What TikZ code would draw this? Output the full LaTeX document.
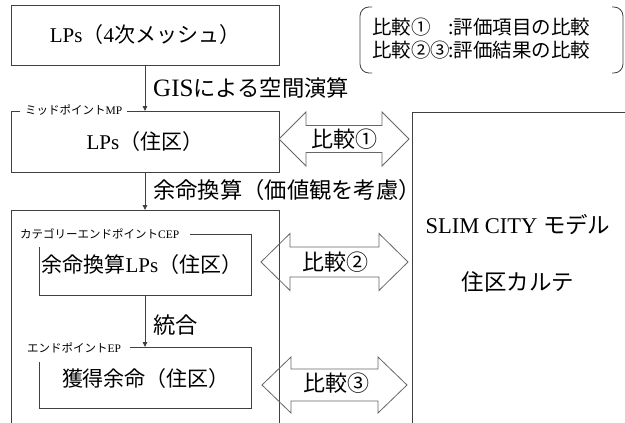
\documentclass[tikz,border=0pt]{standalone}
\usepackage{fontspec}
\setmainfont{Liberation Serif}
\newfontfamily\jp{Noto Sans CJK JP}
\newcommand\J[1]{{\jp #1}}
\usetikzlibrary{arrows.meta}
\newcommand\dblarrow[6]{% x0 x1 c s H h
  \draw[dbl] (#1,#3) -- ({#1+#6},{#3-#5}) -- ({#1+#6},{#3-#4}) -- ({#2-#6},{#3-#4})
    -- ({#2-#6},{#3-#5}) -- (#2,#3) -- ({#2-#6},{#3+#5}) -- ({#2-#6},{#3+#4})
    -- ({#1+#6},{#3+#4}) -- ({#1+#6},{#3+#5}) -- cycle;}
\begin{document}
\begin{tikzpicture}[x=1pt,y=-1pt,
  boxline/.style={draw=black!75, line width=0.9pt},
  mainbox/.style={boxline, minimum width=268pt, inner sep=0pt, outer sep=0pt, anchor=north west,
    font=\fontsize{21}{24}\selectfont},
  conn/.style={draw=black!75, line width=0.9pt, -{Triangle[length=5pt,width=4.5pt]}},
  dbl/.style={draw=black!60, line width=0.8pt},
  lab/.style={font=\jp\fontsize{22.3}{26}\selectfont, anchor=west, inner sep=0pt},
  small/.style={font=\fontsize{11.5}{13}\selectfont, inner sep=0pt, anchor=west},
  txt/.style={font=\fontsize{21}{24}\selectfont, inner sep=0pt},
  cmp/.style={font=\jp\fontsize{22}{24}\selectfont, inner sep=0pt},
  legend/.style={font=\jp\fontsize{19.5}{22}\selectfont, inner sep=0pt, anchor=west}]
\useasboundingbox (0,0) rectangle (625,423);

% legend
\draw[line width=0.8pt, draw=black!75, rounded corners=9pt] (372,7) -- (360,7) -- (360,73) -- (372,73);
\draw[line width=0.8pt, draw=black!75, rounded corners=9pt] (612,7) -- (623,7) -- (623,73) -- (612,73);
\node[legend] (lg1) at (372,27) {\makebox[76pt][l]{比較①}:評価項目の比較};
\node[legend] (lg2) at (372,50) {\makebox[76pt][l]{比較②③}:評価結果の比較};

% box 1
\node[mainbox, minimum height=60pt] (b1) at (11,5) {LPs\J{（}4\J{次メッシュ）}};
% box 2
\node[mainbox, minimum height=61pt] (b2) at (11,111) {LPs\J{（住区）}};
\node[small, fill=white, inner xsep=5pt] (mp) at (20,110) {\J{ミッドポイント}MP};

% box 3 (outer, open at the bottom)
\coordinate (b3t) at (145,210);
\draw[boxline] (11,423) -- (11,210) -- (279,210) -- (279,423);

% CEP box
\node[small] (cepl) at (20,234) {\J{カテゴリーエンドポイント}CEP};
\draw[boxline] (190,234) -- (251,234) -- (251,295) -- (39,295) -- (39,247);
\coordinate (cepb) at (145,295);
\node[txt] (t3) at (142,265) {\J{余命換算}LPs\J{（住区）}};

% EP box
\node[small] (epl) at (27,348) {\J{エンドポイント}EP};
\draw[boxline] (130,347) -- (251,347) -- (251,408) -- (39,408) -- (39,362);
\coordinate (ept) at (145,347);
\node[txt] (t4) at (146,379) {\J{獲得余命（住区）}};

% vertical connectors
\draw[conn] (b1.south) -- (b2.north);
\draw[conn] (b2.south) -- (b3t);
\draw[conn] (cepb) -- (ept);
\node[lab] (l1) at (153,88) {{\rmfamily\fontsize{25}{26}\selectfont GIS}による空間演算};
\node[lab] (l2) at (153,190) {余命換算（価値観を考慮）};
\node[lab] (l3) at (153,325) {統合};

% SLIM CITY box
\draw[boxline] (625,112) -- (412,112) -- (412,423);
\node[font=\fontsize{22.5}{26}\selectfont, inner sep=0pt] (s1) at (518,225) {SLIM CITY \J{モデル}};
\node[cmp, font=\jp\fontsize{22.5}{26}\selectfont] (s2) at (518,282) {住区カルテ};

% comparison arrows
\dblarrow{279}{409}{139}{13.5}{27}{27}
\dblarrow{261}{408}{262}{15}{28.5}{29}
\dblarrow{262}{407}{385}{16}{28}{29}
\node[cmp] (c1) at (344,139) {比較①};
\node[cmp] (c2) at (335,262) {比較②};
\node[cmp] (c3) at (336,383) {比較③};
\end{tikzpicture}
\end{document}
